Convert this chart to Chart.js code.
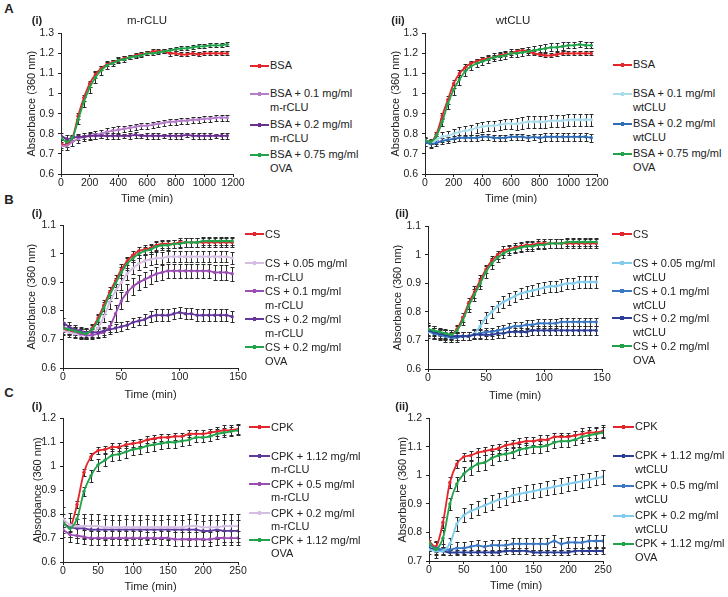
<!DOCTYPE html>
<html>
<head>
<meta charset="utf-8">
<script src="https://cdn.jsdelivr.net/npm/chart.js@4.4.1/dist/chart.umd.min.js"></script>
<style>
  body { margin: 0; background: #fff; font-family: "Liberation Sans", Arial, sans-serif; color: #222; }
  #fig { position: relative; width: 728px; height: 597px; overflow: hidden; background: #fff; }
  canvas { position: absolute; }
  .lbl { position: absolute; white-space: nowrap; transform: translate(-50%, -50%); font-size: 11.5px; }
  .lbl.b { font-weight: bold; }
  .item { position: absolute; white-space: nowrap; font-size: 11px; }
  .sw { position: absolute; left: 0; height: 1.6px; }
  .sw i { position: absolute; top: -1px; width: 3.5px; height: 3.5px; }
  .txt { position: absolute; top: 0; }
</style>
</head>
<body>
<div id="fig"></div>
<script>
// ---- time axes ----
const timesA = [0,40,80,120,160,200,240,280,320,360,400,440,480,520,560,600,640,680,720,760,800,840,880,920,960,1000,1040,1080,1120,1160];
const timesB = [0,5,10,15,20,25,30,35,40,45,50,55,60,65,70,75,80,85,90,95,100,105,110,115,120,125,130,135,140,145];
const timesC = [0,10,20,30,40,50,60,70,80,90,100,110,120,130,140,150,160,170,180,190,200,210,220,230,240,250];

// ---- A(i) m-rCLU ----
const bsaA1 = [0.75,0.745,0.78,0.89,0.98,1.05,1.095,1.125,1.145,1.155,1.165,1.175,1.18,1.19,1.195,1.2,1.21,1.21,1.21,1.2,1.2,1.195,1.195,1.2,1.195,1.2,1.2,1.2,1.2,1.2];
const mr01A1 = [0.74,0.74,0.76,0.775,0.785,0.79,0.795,0.8,0.81,0.815,0.82,0.825,0.83,0.835,0.84,0.84,0.845,0.85,0.855,0.86,0.86,0.865,0.865,0.87,0.87,0.875,0.875,0.88,0.88,0.88];
const mr02A1 = [0.79,0.775,0.78,0.785,0.785,0.79,0.79,0.79,0.79,0.79,0.79,0.79,0.79,0.795,0.79,0.79,0.79,0.79,0.79,0.79,0.79,0.79,0.795,0.79,0.79,0.79,0.79,0.79,0.79,0.79];
const ovaA1 = [0.78,0.76,0.78,0.87,0.96,1.03,1.08,1.115,1.14,1.15,1.165,1.17,1.18,1.185,1.19,1.2,1.2,1.205,1.21,1.215,1.22,1.225,1.225,1.23,1.235,1.235,1.24,1.24,1.24,1.245];
const eBsaA1 = [0.02,0.01,0.01,0.015,0.015,0.015,0.015,0.01,0.01,0.01,0.01,0.01,0.01,0.01,0.01,0.01,0.01,0.01,0.01,0.015,0.01,0.01,0.01,0.01,0.01,0.01,0.01,0.01,0.01,0.01];
const eMr01A1 = [0.02,0.02,0.02,0.02,0.02,0.02,0.02,0.02,0.02,0.02,0.02,0.015,0.015,0.015,0.015,0.015,0.015,0.015,0.015,0.015,0.015,0.015,0.015,0.015,0.015,0.015,0.015,0.015,0.015,0.015];
const eMr02A1 = [0.015,0.02,0.015,0.015,0.01,0.015,0.015,0.01,0.015,0.015,0.015,0.01,0.015,0.015,0.01,0.015,0.015,0.015,0.01,0.015,0.015,0.015,0.01,0.015,0.015,0.015,0.015,0.01,0.015,0.015];
const eOvaA1 = [0.01,0.01,0.01,0.02,0.025,0.025,0.025,0.02,0.02,0.015,0.015,0.015,0.01,0.01,0.01,0.01,0.01,0.01,0.01,0.01,0.01,0.01,0.01,0.01,0.01,0.01,0.01,0.01,0.01,0.01];

// ---- A(ii) wtCLU ----
const bsaA2 = [0.77,0.76,0.8,0.89,0.97,1.05,1.1,1.13,1.15,1.16,1.17,1.175,1.18,1.19,1.195,1.2,1.21,1.215,1.21,1.2,1.195,1.19,1.19,1.195,1.2,1.2,1.2,1.2,1.2,1.2];
const wt01A2 = [0.76,0.755,0.77,0.785,0.79,0.8,0.81,0.815,0.82,0.83,0.835,0.84,0.84,0.845,0.85,0.85,0.85,0.855,0.86,0.86,0.86,0.86,0.865,0.865,0.865,0.87,0.87,0.87,0.87,0.87];
const wt02A2 = [0.76,0.75,0.755,0.765,0.77,0.775,0.78,0.78,0.78,0.78,0.785,0.785,0.78,0.78,0.78,0.785,0.785,0.785,0.78,0.785,0.78,0.785,0.785,0.785,0.785,0.785,0.785,0.785,0.785,0.78];
const ovaA2 = [0.77,0.76,0.79,0.86,0.95,1.02,1.07,1.11,1.135,1.15,1.16,1.17,1.18,1.185,1.19,1.2,1.2,1.205,1.21,1.215,1.22,1.225,1.23,1.23,1.235,1.24,1.24,1.245,1.24,1.24];
const eBsaA2 = [0.015,0.01,0.01,0.015,0.02,0.02,0.015,0.015,0.01,0.01,0.01,0.01,0.01,0.01,0.01,0.01,0.01,0.01,0.01,0.01,0.01,0.01,0.01,0.01,0.01,0.01,0.01,0.01,0.01,0.01];
const eWt01A2 = [0.02,0.02,0.02,0.025,0.025,0.025,0.025,0.025,0.025,0.025,0.025,0.025,0.025,0.025,0.025,0.025,0.03,0.03,0.03,0.03,0.03,0.03,0.03,0.03,0.03,0.03,0.03,0.03,0.03,0.03];
const eWt02A2 = [0.02,0.02,0.015,0.015,0.015,0.015,0.015,0.015,0.015,0.015,0.015,0.015,0.015,0.015,0.015,0.015,0.015,0.015,0.015,0.015,0.02,0.02,0.02,0.02,0.02,0.02,0.02,0.02,0.02,0.02];
const eOvaA2 = [0.01,0.01,0.01,0.02,0.025,0.025,0.025,0.02,0.02,0.02,0.02,0.02,0.02,0.02,0.02,0.02,0.02,0.02,0.02,0.02,0.02,0.02,0.02,0.02,0.02,0.015,0.015,0.015,0.015,0.015];

// ---- B(i) CS + m-rCLU ----
const csB1 = [0.735,0.73,0.725,0.72,0.72,0.74,0.775,0.82,0.865,0.905,0.945,0.975,0.995,1.01,1.015,1.02,1.03,1.035,1.035,1.035,1.04,1.04,1.04,1.04,1.04,1.04,1.04,1.04,1.04,1.04];
const mr005B1 = [0.73,0.725,0.72,0.715,0.715,0.72,0.74,0.78,0.83,0.87,0.9,0.93,0.95,0.965,0.975,0.98,0.985,0.985,0.99,0.99,0.99,0.99,0.99,0.99,0.99,0.99,0.99,0.99,0.99,0.985];
const mr01B1 = [0.745,0.735,0.73,0.72,0.715,0.715,0.72,0.725,0.745,0.79,0.835,0.865,0.885,0.9,0.91,0.92,0.93,0.935,0.94,0.94,0.94,0.94,0.94,0.94,0.94,0.94,0.935,0.935,0.935,0.93];
const mr02B1 = [0.76,0.745,0.735,0.73,0.725,0.725,0.725,0.73,0.735,0.74,0.745,0.75,0.76,0.765,0.77,0.78,0.785,0.785,0.785,0.79,0.795,0.79,0.79,0.785,0.785,0.785,0.785,0.785,0.785,0.78];
const ovaB1 = [0.74,0.735,0.73,0.725,0.72,0.735,0.765,0.81,0.855,0.895,0.935,0.965,0.985,1.0,1.01,1.015,1.025,1.03,1.03,1.035,1.035,1.04,1.04,1.04,1.045,1.045,1.045,1.045,1.045,1.045];
const eCsB1 = [0.015,0.015,0.015,0.015,0.015,0.015,0.015,0.02,0.02,0.02,0.02,0.015,0.015,0.015,0.015,0.015,0.015,0.015,0.015,0.015,0.015,0.015,0.015,0.015,0.015,0.015,0.015,0.015,0.015,0.015];
const eMr005B1 = [0.015,0.015,0.015,0.015,0.015,0.015,0.015,0.02,0.025,0.025,0.025,0.02,0.02,0.02,0.02,0.02,0.02,0.02,0.02,0.02,0.02,0.02,0.02,0.02,0.02,0.02,0.02,0.02,0.02,0.02];
const eMr01B1 = [0.015,0.015,0.015,0.015,0.015,0.015,0.015,0.015,0.02,0.03,0.03,0.03,0.03,0.025,0.025,0.025,0.025,0.025,0.025,0.025,0.025,0.025,0.025,0.025,0.025,0.025,0.025,0.025,0.025,0.025];
const eMr02B1 = [0.015,0.015,0.015,0.015,0.015,0.015,0.015,0.015,0.015,0.015,0.015,0.015,0.015,0.015,0.02,0.02,0.02,0.02,0.02,0.02,0.02,0.02,0.02,0.02,0.02,0.02,0.02,0.02,0.02,0.02];
const eOvaB1 = [0.015,0.015,0.015,0.015,0.015,0.015,0.02,0.02,0.02,0.02,0.02,0.02,0.015,0.015,0.015,0.015,0.015,0.015,0.015,0.015,0.015,0.015,0.015,0.015,0.015,0.015,0.015,0.015,0.015,0.015];

// ---- B(ii) CS + wtCLU ----
const csB2 = [0.735,0.73,0.725,0.72,0.72,0.74,0.78,0.83,0.87,0.91,0.95,0.98,1.0,1.015,1.02,1.025,1.03,1.035,1.035,1.04,1.04,1.04,1.04,1.04,1.04,1.04,1.04,1.04,1.04,1.04];
const wt005B2 = [0.73,0.725,0.72,0.715,0.715,0.715,0.715,0.715,0.725,0.75,0.78,0.8,0.82,0.835,0.845,0.855,0.865,0.87,0.875,0.88,0.885,0.89,0.89,0.895,0.9,0.9,0.905,0.905,0.905,0.905];
const wt01B2 = [0.735,0.725,0.72,0.715,0.71,0.71,0.715,0.715,0.72,0.725,0.73,0.73,0.735,0.74,0.745,0.75,0.75,0.755,0.755,0.76,0.76,0.76,0.76,0.765,0.765,0.765,0.765,0.765,0.765,0.765];
const wt02B2 = [0.735,0.73,0.725,0.72,0.715,0.715,0.715,0.715,0.72,0.72,0.72,0.72,0.725,0.725,0.73,0.73,0.73,0.73,0.735,0.735,0.735,0.735,0.735,0.735,0.735,0.735,0.735,0.735,0.735,0.735];
const ovaB2 = [0.74,0.735,0.73,0.725,0.72,0.735,0.77,0.82,0.86,0.9,0.94,0.97,0.99,1.005,1.015,1.02,1.025,1.03,1.03,1.035,1.035,1.04,1.04,1.04,1.045,1.045,1.045,1.045,1.045,1.045];
const eCsB2 = [0.02,0.02,0.015,0.015,0.015,0.015,0.015,0.02,0.02,0.02,0.015,0.015,0.015,0.015,0.015,0.015,0.015,0.015,0.015,0.015,0.015,0.015,0.015,0.015,0.015,0.015,0.015,0.015,0.015,0.015];
const eWt005B2 = [0.02,0.02,0.02,0.02,0.02,0.015,0.015,0.015,0.015,0.02,0.02,0.02,0.02,0.02,0.02,0.02,0.02,0.02,0.02,0.02,0.02,0.02,0.02,0.02,0.02,0.02,0.02,0.02,0.02,0.02];
const eWt01B2 = [0.02,0.02,0.015,0.015,0.015,0.015,0.015,0.015,0.015,0.015,0.015,0.015,0.015,0.015,0.015,0.015,0.015,0.015,0.015,0.015,0.015,0.015,0.015,0.015,0.015,0.015,0.015,0.015,0.015,0.015];
const eWt02B2 = [0.02,0.015,0.015,0.015,0.015,0.015,0.015,0.015,0.015,0.015,0.015,0.015,0.015,0.015,0.015,0.015,0.015,0.015,0.015,0.015,0.015,0.015,0.015,0.015,0.015,0.015,0.015,0.015,0.015,0.015];
const eOvaB2 = [0.02,0.015,0.015,0.015,0.015,0.015,0.015,0.02,0.02,0.02,0.02,0.02,0.015,0.015,0.015,0.015,0.015,0.015,0.015,0.015,0.015,0.015,0.015,0.015,0.015,0.015,0.015,0.015,0.015,0.015];

// ---- C(i) CPK + m-rCLU ----
const cpkC1 = [0.765,0.745,0.84,0.975,1.04,1.065,1.07,1.08,1.08,1.09,1.095,1.1,1.11,1.115,1.12,1.12,1.125,1.125,1.135,1.135,1.135,1.14,1.145,1.15,1.15,1.155];
const mr112C1 = [0.76,0.745,0.74,0.74,0.735,0.735,0.735,0.735,0.735,0.735,0.735,0.735,0.735,0.735,0.735,0.735,0.735,0.735,0.735,0.735,0.73,0.73,0.735,0.73,0.73,0.73];
const mr05C1 = [0.735,0.715,0.71,0.705,0.7,0.7,0.7,0.7,0.7,0.7,0.7,0.7,0.7,0.7,0.7,0.7,0.695,0.695,0.695,0.695,0.695,0.695,0.7,0.7,0.7,0.7];
const mr02C1 = [0.78,0.755,0.75,0.75,0.75,0.75,0.745,0.745,0.745,0.745,0.745,0.745,0.745,0.745,0.745,0.745,0.745,0.745,0.75,0.75,0.745,0.745,0.745,0.75,0.75,0.75];
const ovaC1 = [0.765,0.74,0.78,0.895,0.96,1.005,1.025,1.045,1.05,1.06,1.07,1.075,1.085,1.09,1.095,1.1,1.1,1.105,1.11,1.12,1.12,1.125,1.135,1.14,1.145,1.15];
const eCpkC1 = [0.02,0.015,0.015,0.015,0.015,0.015,0.015,0.015,0.015,0.015,0.015,0.015,0.015,0.015,0.015,0.015,0.015,0.015,0.015,0.015,0.015,0.015,0.02,0.02,0.02,0.02];
const eMr112C1 = [0.04,0.04,0.04,0.045,0.04,0.04,0.045,0.04,0.04,0.045,0.04,0.04,0.045,0.04,0.04,0.045,0.04,0.04,0.045,0.04,0.04,0.045,0.04,0.045,0.045,0.045];
const eMr05C1 = [0.03,0.03,0.03,0.03,0.03,0.03,0.03,0.03,0.03,0.03,0.03,0.03,0.025,0.025,0.03,0.03,0.03,0.03,0.03,0.03,0.03,0.03,0.03,0.03,0.03,0.03];
const eMr02C1 = [0.05,0.05,0.05,0.05,0.05,0.05,0.05,0.05,0.05,0.05,0.05,0.05,0.05,0.05,0.05,0.05,0.05,0.05,0.05,0.05,0.05,0.05,0.05,0.05,0.05,0.05];
const eOvaC1 = [0.02,0.015,0.02,0.02,0.025,0.025,0.025,0.025,0.025,0.025,0.025,0.025,0.025,0.025,0.025,0.025,0.025,0.02,0.02,0.02,0.02,0.02,0.02,0.02,0.02,0.02];

// ---- C(ii) CPK + wtCLU ----
const cpkC2 = [0.77,0.75,0.835,0.975,1.04,1.065,1.07,1.08,1.085,1.09,1.095,1.105,1.11,1.115,1.12,1.12,1.125,1.125,1.135,1.135,1.135,1.14,1.145,1.15,1.15,1.155];
const wt112C2 = [0.745,0.74,0.735,0.73,0.73,0.73,0.73,0.73,0.73,0.73,0.73,0.735,0.735,0.735,0.735,0.73,0.73,0.73,0.73,0.73,0.73,0.735,0.735,0.735,0.735,0.735];
const wt05C2 = [0.755,0.745,0.74,0.74,0.745,0.745,0.75,0.755,0.75,0.755,0.755,0.755,0.76,0.76,0.76,0.76,0.76,0.76,0.77,0.76,0.765,0.765,0.765,0.77,0.77,0.77];
const wt02C2 = [0.74,0.735,0.735,0.76,0.83,0.86,0.875,0.885,0.895,0.905,0.915,0.92,0.93,0.935,0.94,0.945,0.95,0.955,0.96,0.965,0.97,0.975,0.98,0.985,0.99,0.995];
const ovaC2 = [0.765,0.74,0.78,0.9,0.97,1.005,1.025,1.04,1.045,1.06,1.07,1.075,1.08,1.09,1.095,1.1,1.1,1.105,1.115,1.12,1.12,1.125,1.135,1.14,1.145,1.15];
const eCpkC2 = [0.015,0.015,0.02,0.02,0.015,0.015,0.015,0.015,0.015,0.015,0.015,0.015,0.015,0.015,0.015,0.015,0.015,0.015,0.015,0.015,0.015,0.015,0.02,0.02,0.02,0.02];
const eWt112C2 = [0.01,0.01,0.01,0.01,0.01,0.01,0.01,0.01,0.01,0.01,0.01,0.01,0.01,0.01,0.01,0.01,0.01,0.01,0.01,0.01,0.01,0.01,0.01,0.01,0.01,0.01];
const eWt05C2 = [0.02,0.02,0.02,0.02,0.02,0.02,0.02,0.02,0.02,0.02,0.02,0.02,0.02,0.02,0.02,0.02,0.02,0.02,0.02,0.02,0.02,0.02,0.02,0.02,0.02,0.02];
const eWt02C2 = [0.015,0.015,0.015,0.02,0.025,0.025,0.025,0.025,0.025,0.025,0.025,0.025,0.025,0.025,0.025,0.025,0.025,0.025,0.025,0.025,0.025,0.025,0.025,0.025,0.025,0.025];
const eOvaC2 = [0.02,0.03,0.03,0.02,0.025,0.025,0.025,0.025,0.025,0.025,0.02,0.02,0.02,0.02,0.02,0.02,0.02,0.02,0.02,0.02,0.02,0.02,0.02,0.02,0.02,0.02];

// ---- legend texts ----
const labelsA1 = [['BSA'], ['BSA + 0.1 mg/ml', 'm-rCLU'], ['BSA + 0.2 mg/ml', 'm-rCLU'], ['BSA + 0.75 mg/ml', 'OVA']];
const labelsA2 = [['BSA'], ['BSA + 0.1 mg/ml', 'wtCLU'], ['BSA + 0.2 mg/ml', 'wtCLU'], ['BSA + 0.75 mg/ml', 'OVA']];
const labelsB1 = [['CS'], ['CS + 0.05 mg/ml', 'm-rCLU'], ['CS + 0.1 mg/ml', 'm-rCLU'], ['CS + 0.2 mg/ml', 'm-rCLU'], ['CS + 0.2 mg/ml', 'OVA']];
const labelsB2 = [['CS'], ['CS + 0.05 mg/ml', 'wtCLU'], ['CS + 0.1 mg/ml', 'wtCLU'], ['CS + 0.2 mg/ml', 'wtCLU'], ['CS + 0.2 mg/ml', 'OVA']];
const labelsC1 = [['CPK'], ['CPK + 1.12 mg/ml', 'm-rCLU'], ['CPK + 0.5 mg/ml', 'm-rCLU'], ['CPK + 0.2 mg/ml', 'm-rCLU'], ['CPK + 1.12 mg/ml', 'OVA']];
const labelsC2 = [['CPK'], ['CPK + 1.12 mg/ml', 'wtCLU'], ['CPK + 0.5 mg/ml', 'wtCLU'], ['CPK + 0.2 mg/ml', 'wtCLU'], ['CPK + 1.12 mg/ml', 'OVA']];

const RED = '#e3262b', GREEN = '#22a34b';
const fig = document.getElementById('fig');
const ink = '#222';
const tickFont = { family: '"Liberation Sans", Arial, sans-serif', size: 10.5, weight: 'normal' };
const titleFont = { family: '"Liberation Sans", Arial, sans-serif', size: 11, weight: 'normal' };

// error bars, drawn under the lines
const errorBars = {
  id: 'errorBars',
  beforeDatasetsDraw(chart) {
    const { ctx, chartArea: a, scales: { x, y } } = chart;
    ctx.save();
    ctx.beginPath();
    ctx.rect(a.left, a.top - 3, a.width + 3, a.height + 3);
    ctx.clip();
    ctx.strokeStyle = '#2a2a2a';
    ctx.lineWidth = 1;
    chart.data.datasets.forEach(ds => {
      ds.data.forEach((p, i) => {
        const e = ds.err[i];
        const px = Math.round(x.getPixelForValue(p.x)) + 0.5;
        const hi = Math.round(y.getPixelForValue(p.y + e)) + 0.5;
        const lo = Math.round(y.getPixelForValue(p.y - e)) + 0.5;
        ctx.beginPath();
        ctx.moveTo(px, hi); ctx.lineTo(px, lo);
        ctx.moveTo(px - 2, hi); ctx.lineTo(px + 2, hi);
        ctx.moveTo(px - 2, lo); ctx.lineTo(px + 2, lo);
        ctx.stroke();
      });
    });
    ctx.restore();
  }
};

function makePanel(p) {
  const [pl, pr, pt, pb] = p.plot;
  const left = pl - p.yw, top = pt - 10;
  const cv = document.createElement('canvas');
  cv.width = pr + 16 - left;
  cv.height = pb + p.xh - top;
  cv.style.left = left + 'px';
  cv.style.top = top + 'px';
  fig.appendChild(cv);
  const n = p.series.length;
  new Chart(cv, {
    type: 'line',
    data: {
      datasets: p.series.map((s, i) => ({
        label: s.label.join(' '),
        data: p.times.map((t, j) => ({ x: t, y: s.values[j] })),
        err: s.err,
        borderColor: s.color,
        backgroundColor: s.color,
        borderWidth: 1.8,
        pointRadius: 1.7,
        pointBorderWidth: 0,
        tension: 0.3,
        order: n - i
      }))
    },
    options: {
      responsive: false,
      animation: false,
      devicePixelRatio: 1,
      layout: { padding: { top: 10, right: 16, left: 0, bottom: 0 } },
      plugins: { legend: { display: false }, tooltip: { enabled: false } },
      scales: {
        x: {
          type: 'linear', min: p.x[0], max: p.x[1],
          afterFit: s => { s.height = p.xh; },
          ticks: { stepSize: p.x[2], autoSkip: false, maxRotation: 0, padding: 0, color: ink, font: tickFont, callback: v => String(v) },
          grid: { drawOnChartArea: false, tickLength: 3, color: ink },
          border: { color: ink },
          title: { display: true, text: 'Time (min)', color: ink, font: titleFont, padding: { top: 2, bottom: 4 } }
        },
        y: {
          min: p.y[0], max: p.y[1],
          afterFit: s => { s.width = p.yw; },
          ticks: { stepSize: 0.1, padding: 4, color: ink, font: tickFont, callback: v => String(+v.toFixed(2)) },
          grid: { drawOnChartArea: false, tickLength: 3, color: ink },
          border: { color: ink },
          title: { display: true, text: 'Absorbance (360 nm)', color: ink, font: titleFont, padding: { top: 4, bottom: 4 } }
        }
      }
    },
    plugins: [errorBars]
  });

  // legend
  const lg = p.legend;
  p.series.forEach((s, i) => {
    const d = document.createElement('div');
    d.className = 'item';
    d.style.left = lg.x + 'px';
    d.style.top = (lg.tops[i] - lg.lh / 2) + 'px';
    d.style.lineHeight = lg.lh + 'px';
    const w = lg.tx - lg.x - 1;
    d.innerHTML = `<span class="sw" style="background:${s.color};top:${lg.lh / 2 - 0.8}px;width:${w}px">` +
      `<i style="background:${s.color};left:${w / 2 - 1.75}px"></i></span>` +
      `<span class="txt" style="left:${lg.tx - lg.x}px">${s.label.join('<br>')}</span>`;
    fig.appendChild(d);
  });
}

function label(text, x, y, cls, size) {
  const d = document.createElement('div');
  d.className = 'lbl' + (cls ? ' ' + cls : '');
  d.textContent = text;
  d.style.left = x + 'px';
  d.style.top = y + 'px';
  if (size) d.style.fontSize = size + 'px';
  fig.appendChild(d);
}

makePanel({
  plot: [61, 233, 33, 174], yw: 40, xh: 36, x: [0, 1200, 200], y: [0.6, 1.3], times: timesA,
  series: [
    { label: labelsA1[0], values: bsaA1, err: eBsaA1, color: RED },
    { label: labelsA1[1], values: mr01A1, err: eMr01A1, color: '#b57ec9' },
    { label: labelsA1[2], values: mr02A1, err: eMr02A1, color: '#6b2f90' },
    { label: labelsA1[3], values: ovaA1, err: eOvaA1, color: GREEN }
  ],
  legend: { x: 250, tx: 270, lh: 13.5, tops: [66, 94, 125, 155] }
});
makePanel({
  plot: [425, 597, 33, 174], yw: 40, xh: 36, x: [0, 1200, 200], y: [0.6, 1.3], times: timesA,
  series: [
    { label: labelsA2[0], values: bsaA2, err: eBsaA2, color: RED },
    { label: labelsA2[1], values: wt01A2, err: eWt01A2, color: '#abdcec' },
    { label: labelsA2[2], values: wt02A2, err: eWt02A2, color: '#306db5' },
    { label: labelsA2[3], values: ovaA2, err: eOvaA2, color: GREEN }
  ],
  legend: { x: 613, tx: 633, lh: 13.5, tops: [65, 94, 124, 154] }
});
makePanel({
  plot: [63, 238, 225, 368], yw: 42, xh: 38, x: [0, 150, 50], y: [0.6, 1.1], times: timesB,
  series: [
    { label: labelsB1[0], values: csB1, err: eCsB1, color: RED },
    { label: labelsB1[1], values: mr005B1, err: eMr005B1, color: '#d6bde3' },
    { label: labelsB1[2], values: mr01B1, err: eMr01B1, color: '#9b4db4' },
    { label: labelsB1[3], values: mr02B1, err: eMr02B1, color: '#65379a' },
    { label: labelsB1[4], values: ovaB1, err: eOvaB1, color: GREEN }
  ],
  legend: { x: 245, tx: 265, lh: 14, tops: [234, 263, 291, 319, 347] }
});
makePanel({
  plot: [428, 602, 226, 369], yw: 41, xh: 38, x: [0, 150, 50], y: [0.6, 1.1], times: timesB,
  series: [
    { label: labelsB2[0], values: csB2, err: eCsB2, color: RED },
    { label: labelsB2[1], values: wt005B2, err: eWt005B2, color: '#82cbec' },
    { label: labelsB2[2], values: wt01B2, err: eWt01B2, color: '#3b77c2' },
    { label: labelsB2[3], values: wt02B2, err: eWt02B2, color: '#2c3e96' },
    { label: labelsB2[4], values: ovaB2, err: eOvaB2, color: GREEN }
  ],
  legend: { x: 612, tx: 633, lh: 14, tops: [234, 263, 291, 318, 346] }
});
makePanel({
  plot: [63, 238, 418, 562], yw: 36, xh: 36, x: [0, 250, 50], y: [0.6, 1.2], times: timesC,
  series: [
    { label: labelsC1[0], values: cpkC1, err: eCpkC1, color: RED },
    { label: labelsC1[1], values: mr112C1, err: eMr112C1, color: '#5f3c9c' },
    { label: labelsC1[2], values: mr05C1, err: eMr05C1, color: '#9b4db4' },
    { label: labelsC1[3], values: mr02C1, err: eMr02C1, color: '#d6bde3' },
    { label: labelsC1[4], values: ovaC1, err: eOvaC1, color: GREEN }
  ],
  legend: { x: 249, tx: 271, lh: 13, tops: [427, 456, 484, 513, 540] }
});
makePanel({
  plot: [429, 603, 418, 561], yw: 37, xh: 36, x: [0, 250, 50], y: [0.7, 1.2], times: timesC,
  series: [
    { label: labelsC2[0], values: cpkC2, err: eCpkC2, color: RED },
    { label: labelsC2[1], values: wt112C2, err: eWt112C2, color: '#2c3e96' },
    { label: labelsC2[2], values: wt05C2, err: eWt05C2, color: '#3b77c2' },
    { label: labelsC2[3], values: wt02C2, err: eWt02C2, color: '#82cbec' },
    { label: labelsC2[4], values: ovaC2, err: eOvaC2, color: GREEN }
  ],
  legend: { x: 613, tx: 635, lh: 13.5, tops: [427, 456, 486, 516, 544] }
});

// panel letters and titles
label('A', 9, 8, 'b', 13);
label('B', 9, 199, 'b', 13);
label('C', 9, 392, 'b', 13);
label('(i)', 37, 20, 'b', 11);
label('(ii)', 398, 20, 'b', 11);
label('m-rCLU', 147, 20);
label('wtCLU', 513, 20);
label('(i)', 37, 213, 'b', 11);
label('(ii)', 402, 213, 'b', 11);
label('(i)', 37, 406, 'b', 11);
label('(ii)', 402, 406, 'b', 11);
</script>
</body>
</html>
